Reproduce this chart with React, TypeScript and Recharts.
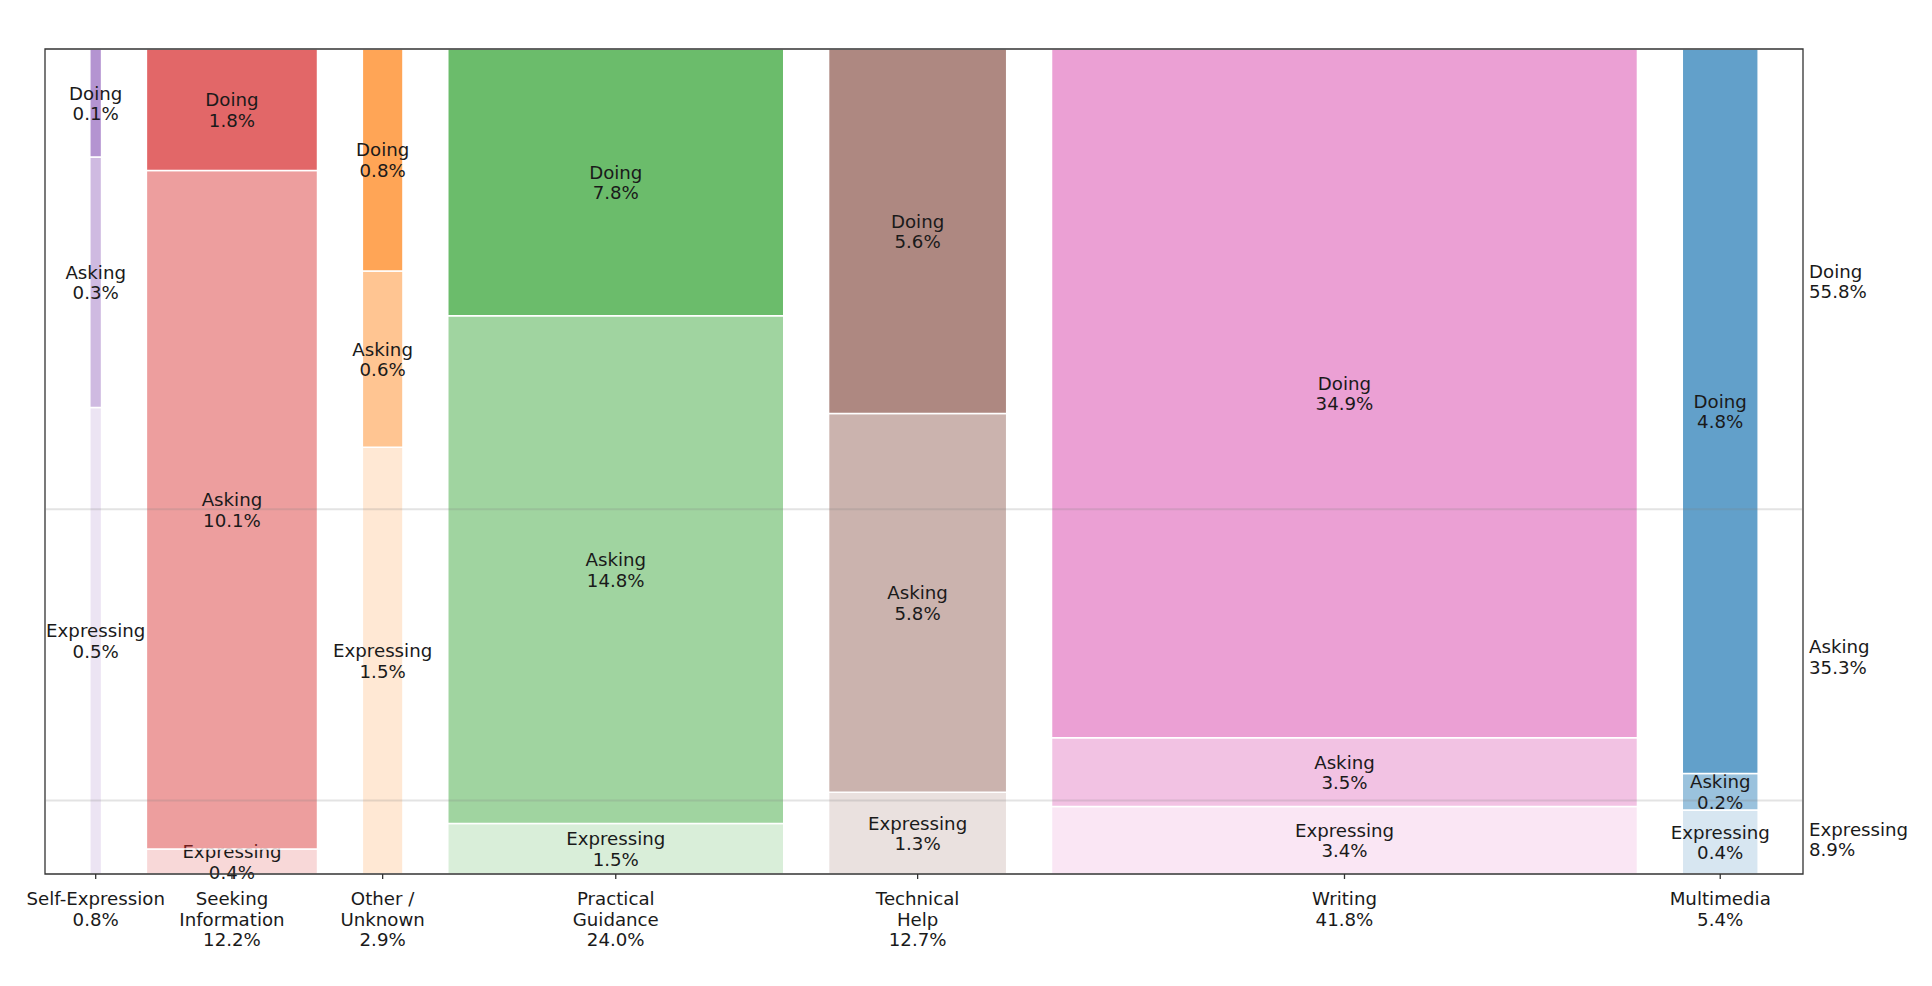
import React from "react";
import { ComposedChart, XAxis, YAxis, ReferenceArea, ReferenceLine } from "recharts";

// share of all conversations (%), per category and interaction mode
const categories = [
  "Self-Expression",
  "Seeking Information",
  "Other / Unknown",
  "Practical Guidance",
  "Technical Help",
  "Writing",
  "Multimedia",
];
const categoryLines = [
  ["Self-Expression"],
  ["Seeking", "Information"],
  ["Other /", "Unknown"],
  ["Practical", "Guidance"],
  ["Technical", "Help"],
  ["Writing"],
  ["Multimedia"],
];
const doing = [0.11, 1.8, 0.78, 7.76, 5.62, 34.93, 4.76];
const asking = [0.255, 10.05, 0.62, 14.76, 5.84, 3.49, 0.24];
const expressing = [0.475, 0.37, 1.5, 1.47, 1.26, 3.42, 0.42];

// stacked bottom -> top
const modes = ["Expressing", "Asking", "Doing"];

const colors = ["#9467bd", "#d62728", "#ff7f0e", "#2ca02c", "#8c564b", "#e377c2", "#1f77b4"];
const modeOpacity = [0.18, 0.45, 0.7];
const GAP = 3.2;
const FONT = "'DejaVu Sans', sans-serif";
const FS = 18.2;
const TEXT = "#1a1a1a";

const modeValues = [expressing, asking, doing];
const totals = categories.map((_, i) => doing[i] + asking[i] + expressing[i]);
const grand = totals.reduce((a, b) => a + b, 0);

let cursor = GAP;
const columns = categories.map((name, i) => {
  const x1 = cursor;
  const x2 = cursor + totals[i];
  cursor = x2 + GAP;
  // each column is normalised to 100%
  return { name, x1, x2, center: (x1 + x2) / 2, columnPct: 100 };
});
const xMax = cursor;

const segments = columns.flatMap((col, i) => {
  let base = 0;
  return modes.map((mode, m) => {
    const v = modeValues[m][i];
    const h = (v / totals[i]) * 100;
    const seg = { key: `${i}-${m}`, col: i, mode: m, x1: col.x1, x2: col.x2, y1: base, y2: base + h, value: v };
    base += h;
    return seg;
  });
});

const modeTotals = modeValues.map((arr) => arr.reduce((a, b) => a + b, 0));
const bounds: number[] = [];
let acc = 0;
modeTotals.forEach((t) => {
  acc += (t / grand) * 100;
  bounds.push(acc);
});
const bandCenters = bounds.map((b, k) => ((k === 0 ? 0 : bounds[k - 1]) + b) / 2);

const XTick = (props: any) => {
  const { x, y, payload } = props;
  let idx = 0;
  columns.forEach((c, i) => {
    if (Math.abs(c.center - payload.value) < Math.abs(columns[idx].center - payload.value)) idx = i;
  });
  const lines = [...categoryLines[idx], `${totals[idx].toFixed(1)}%`];
  return (
    <g>
      {lines.map((l, k) => (
        <text key={k} x={x} y={y + 23 + k * 20.5} textAnchor="middle" fontFamily={FONT} fontSize={FS} fill={TEXT}>
          {l}
        </text>
      ))}
    </g>
  );
};

const RTick = (props: any) => {
  const { x, y, payload } = props;
  let k = 0;
  bandCenters.forEach((c, i) => {
    if (Math.abs(c - payload.value) < Math.abs(bandCenters[k] - payload.value)) k = i;
  });
  const lines = [modes[k], `${modeTotals[k].toFixed(1)}%`];
  return (
    <g>
      {lines.map((l, j) => (
        <text key={j} x={x} y={y - 8 + j * 20.5} dominantBaseline="central" textAnchor="start" fontFamily={FONT} fontSize={FS} fill={TEXT}>
          {l}
        </text>
      ))}
    </g>
  );
};

const segLabel = (lines: string[]) => (props: any) => {
  const vb = props.viewBox || {};
  const cx = vb.x + vb.width / 2;
  const cy = vb.y + vb.height / 2;
  return (
    <g>
      {lines.map((l, j) => (
        <text key={j} x={cx} y={cy - 10 + j * 20.5} dominantBaseline="central" textAnchor="middle" fontFamily={FONT} fontSize={FS} fill={TEXT}>
          {l}
        </text>
      ))}
    </g>
  );
};

export default function App() {
  return (
    <div style={{ width: 1916, height: 970 }}>
      <ComposedChart width={1916} height={970} data={columns} margin={{ top: 41, right: 0, bottom: 0, left: 37 }}>
        <XAxis
          xAxisId="x"
          type="number"
          dataKey="center"
          domain={[0, xMax]}
          ticks={columns.map((c) => c.center)}
          interval={0}
          tick={<XTick />}
          tickLine={{ stroke: "#333", strokeWidth: 1.3 }}
          tickSize={5}
          tickMargin={3}
          axisLine={false}
          height={104}
          allowDataOverflow
        />
        <YAxis yAxisId="v" type="number" dataKey="columnPct" domain={[0, 100]} hide />
        <YAxis
          yAxisId="r"
          orientation="right"
          type="number"
          dataKey="columnPct"
          domain={[0, 100]}
          ticks={bandCenters}
          interval={0}
          tick={<RTick />}
          tickLine={false}
          axisLine={false}
          tickSize={4}
          tickMargin={2}
          width={121}
        />
        {segments.map((s) => (
          <ReferenceArea
            key={s.key}
            xAxisId="x"
            yAxisId="v"
            x1={s.x1}
            x2={s.x2}
            y1={s.y1}
            y2={s.y2}
            fill={colors[s.col]}
            fillOpacity={modeOpacity[s.mode]}
            stroke="#ffffff"
            strokeWidth={1.5}
            label={segLabel([modes[s.mode], `${s.value.toFixed(1)}%`])}
          />
        ))}
        {bounds.slice(0, 2).map((b) => (
          <ReferenceLine key={b} xAxisId="x" yAxisId="v" y={b} stroke="#808080" strokeOpacity={0.22} strokeWidth={2} />
        ))}
        <ReferenceArea
          xAxisId="x"
          yAxisId="v"
          x1={0}
          x2={xMax}
          y1={0}
          y2={100}
          fill="none"
          fillOpacity={0}
          stroke="#333333"
          strokeWidth={1.3}
        />
      </ComposedChart>
    </div>
  );
}
